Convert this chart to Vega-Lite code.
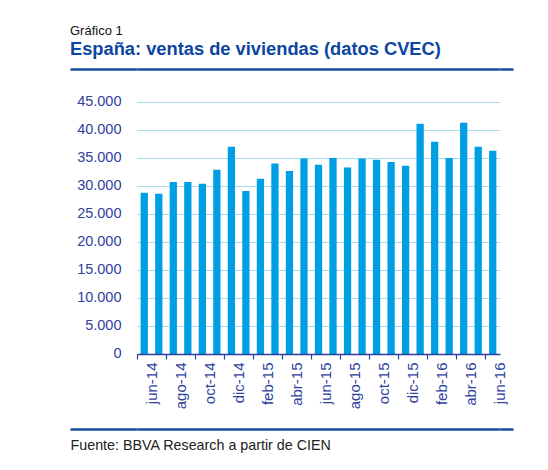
{
  "$schema": "https://vega.github.io/schema/vega-lite/v6.json",
  "width": 363,
  "height": 362,
  "autosize": {"type": "none"},
  "padding": {"left": 137, "top": 67, "right": 48, "bottom": 41},
  "background": "white",
  "title": {
    "text": "Gráfico 1",
    "subtitle": "España: ventas de viviendas (datos CVEC)",
    "anchor": "start",
    "frame": "group",
    "dx": -67,
    "offset": 9,
    "font": "Liberation Sans",
    "fontSize": 13,
    "fontWeight": "normal",
    "color": "#111111",
    "subtitleFont": "Liberation Sans",
    "subtitleFontSize": 18.3,
    "subtitleFontWeight": "bold",
    "subtitleColor": "#0b46a0",
    "subtitlePadding": 3
  },
  "data": {
    "values": [
      {"mes": "jun-14", "ventas": 28800},
      {"mes": "jul-14", "ventas": 28600},
      {"mes": "ago-14", "ventas": 30700},
      {"mes": "sep-14", "ventas": 30700},
      {"mes": "oct-14", "ventas": 30400},
      {"mes": "nov-14", "ventas": 32900},
      {"mes": "dic-14", "ventas": 37000},
      {"mes": "ene-15", "ventas": 29100},
      {"mes": "feb-15", "ventas": 31300},
      {"mes": "mar-15", "ventas": 34000},
      {"mes": "abr-15", "ventas": 32700},
      {"mes": "may-15", "ventas": 34900},
      {"mes": "jun-15", "ventas": 33800},
      {"mes": "jul-15", "ventas": 35000},
      {"mes": "ago-15", "ventas": 33300},
      {"mes": "sep-15", "ventas": 34900},
      {"mes": "oct-15", "ventas": 34700},
      {"mes": "nov-15", "ventas": 34300},
      {"mes": "dic-15", "ventas": 33600},
      {"mes": "ene-16", "ventas": 41100},
      {"mes": "feb-16", "ventas": 37900},
      {"mes": "mar-16", "ventas": 35000},
      {"mes": "abr-16", "ventas": 41300},
      {"mes": "may-16", "ventas": 37000},
      {"mes": "jun-16", "ventas": 36300}
    ]
  },
  "layer": [
    {
      "mark": {"type": "bar", "color": "#009ee2", "width": {"band": 0.5}},
      "encoding": {
        "x": {
          "field": "mes",
          "type": "nominal",
          "sort": null,
          "scale": {"paddingInner": 0, "paddingOuter": 0},
          "axis": {
            "orient": "bottom",
            "offset": -75,
            "zindex": 1,
            "values": ["jun-14", "ago-14", "oct-14", "dic-14", "feb-15", "abr-15", "jun-15", "ago-15", "oct-15", "dic-15", "feb-16", "abr-16", "jun-16"],
            "bandPosition": 0,
            "labelOffset": 7.26,
            "labelAngle": 270,
            "labelPadding": 3,
            "labelFont": "Liberation Sans",
            "labelFontSize": 15,
            "labelColor": "#2f3f9e",
            "domainColor": "#2f3f9e",
            "domainWidth": 1.5,
            "tickColor": "#2f3f9e",
            "tickSize": 5,
            "tickWidth": 1.2,
            "grid": false,
            "title": "Fuente: BBVA Research a partir de CIEN",
            "titleX": -67,
            "titleY": 95,
            "titleAlign": "left",
            "titleAnchor": "start",
            "titleBaseline": "alphabetic",
            "titleFont": "Liberation Sans",
            "titleFontSize": 14.3,
            "titleFontWeight": "normal",
            "titleColor": "#222222"
          }
        },
        "y": {
          "field": "ventas",
          "type": "quantitative",
          "scale": {"domain": [-13393, 51250], "nice": false, "zero": false},
          "axis": {
            "orient": "left",
            "values": [0, 5000, 10000, 15000, 20000, 25000, 30000, 35000, 40000, 45000],
            "labelExpr": "replace(format(datum.value, ','), ',', '.')",
            "grid": true,
            "gridColor": "#a6dbf2",
            "gridWidth": 1.2,
            "ticks": false,
            "domain": false,
            "labelPadding": 16,
            "labelFont": "Liberation Sans",
            "labelFontSize": 14.5,
            "labelColor": "#2f3f9e",
            "title": null
          }
        },
        "y2": {"datum": 0}
      }
    },
    {
      "mark": {"type": "point", "opacity": 0},
      "encoding": {
        "y": {
          "field": "ventas",
          "type": "quantitative",
          "axis": {
            "orient": "left",
            "values": [-13393, 50950],
            "grid": true,
            "gridColor": "#174f9e",
            "gridWidth": 2.5,
            "tickSize": 67,
            "tickColor": "#174f9e",
            "tickWidth": 2.5,
            "labels": false,
            "domain": false,
            "title": null
          }
        }
      }
    },
    {
      "mark": {"type": "point", "opacity": 0},
      "encoding": {
        "y": {
          "field": "ventas",
          "type": "quantitative",
          "axis": {
            "orient": "right",
            "values": [-13393, 50950],
            "grid": false,
            "tickSize": 13,
            "tickColor": "#174f9e",
            "tickWidth": 2.5,
            "labels": false,
            "domain": false,
            "title": null
          }
        }
      }
    }
  ],
  "resolve": {"scale": {"y": "shared"}, "axis": {"y": "independent"}},
  "config": {"view": {"stroke": null}}
}
